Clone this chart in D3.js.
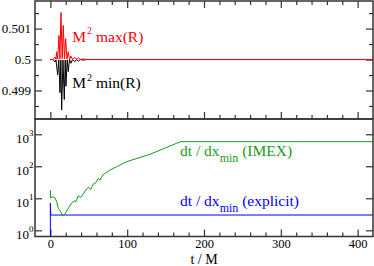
<!DOCTYPE html>
<html>
<head>
<meta charset="utf-8">
<script src="https://cdn.jsdelivr.net/npm/d3@7"></script>
<style>
  body { margin: 0; background: #fff; }
</style>
</head>
<body>
<svg id="chart" width="374" height="266"></svg>
<script>
// M^2 max(R) / min(R) vs t (top panel)
const tMaxR = [0, 3.4, 6, 7.3, 8.2, 9.5, 11.2, 12.5, 13.8, 15.4, 16.8, 18.4, 19.9, 21.6, 23.3, 24.9, 26.8, 28.8, 32, 34.2, 36.5, 39, 43, 47, 420];
const valMaxR = [0.5, 0.5, 0.50008, 0.50001, 0.50025, 0.50001, 0.50078, 0.50002, 0.50152, 0.50003, 0.5011, 0.50002, 0.50067, 0.50002, 0.50025, 0.5, 0.50011, 0.5, 0.50007, 0.5, 0.50005, 0.5, 0.50002, 0.5, 0.5];
const tMinR = [0, 3.4, 6, 7.3, 9.5, 11, 12.5, 13.7, 14.7, 16.4, 18.1, 19.3, 20.3, 21.9, 23.3, 24.9, 26.8, 28.8, 32, 34.2, 36.5, 39, 43, 47, 420];
const valMinR = [0.5, 0.5, 0.49992, 0.49999, 0.49951, 0.49999, 0.49893, 0.49998, 0.49837, 0.49998, 0.49871, 0.49998, 0.49914, 0.49999, 0.49961, 0.5, 0.49988, 0.5, 0.49993, 0.5, 0.49995, 0.5, 0.49998, 0.5, 0.5];

// dt / dx_min vs t (bottom panel)
const tImex = [0, 0.4, 3, 6, 8.2, 10.3, 13.4, 16, 19, 22, 24.6, 27.7, 30.7, 33.3, 36.3, 39.5, 42.8, 46.4, 49.3, 52.5, 55.9, 59.4, 62.4, 64.6, 68.1, 72.4, 77.6, 86.3, 99.3, 129.7, 164.5, 170, 420];
const valImex = [18, 10, 11.2, 10.4, 7.8, 4.9, 3.8, 2.8, 3.2, 4.3, 5.5, 7.0, 8.4, 7.8, 11.8, 10.7, 13.6, 18.2, 22, 19, 28, 31, 42, 37, 53, 63, 76, 97, 139, 237, 524, 588, 588];
const tExplicit = [0, 0, 0.5, 420];
const valExplicit = [0.64, 7, 3.0, 3.0];

// ticks
const xMajor = [0, 100, 200, 300, 400];
const xMinor = [20, 40, 60, 80, 120, 140, 160, 180, 220, 240, 260, 280, 320, 340, 360, 380];
const yTopMajor = [0.499, 0.5, 0.501];
const yTopMinor = [0.4985, 0.4995, 0.5005, 0.5015];
const yBotMajor = [1, 10, 100, 1000];
const yBotExp = ["0", "1", "2", "3"];

const serif = "'Liberation Serif', 'DejaVu Serif', 'Times New Roman', serif";

const svg = d3.select("#chart").attr("font-family", serif);
const left = 35, right = 373;

const x = d3.scaleLinear().domain([-20, 420]).range([left, right]);
const yTop = d3.scaleLinear().domain([0.49808, 0.50189]).range([119, 1]);
const yBot = d3.scaleLog().domain([0.64, 3000]).range([236.5, 119]);

const frameColor = "#333";

function tickAxis(axis, tx, ty, size) {
  const g = svg.append("g")
    .attr("transform", "translate(" + tx + "," + ty + ")")
    .call(axis)
    .attr("font-family", serif)
    .attr("font-size", size || 13);
  g.select(".domain").remove();
  g.selectAll(".tick line").attr("stroke", frameColor).attr("stroke-width", 1.2);
  g.selectAll("text").attr("fill", "#000");
  return g;
}

// ---- top panel ticks ----
tickAxis(d3.axisLeft(yTop).tickValues(yTopMajor).tickSize(-7).tickPadding(4)
  .tickFormat(d => d === 0.5 ? "0.5" : d3.format(".3f")(d)), left, 0);
tickAxis(d3.axisLeft(yTop).tickValues(yTopMinor).tickSize(-4).tickFormat(""), left, 0);
tickAxis(d3.axisRight(yTop).tickValues(yTopMajor).tickSize(-7).tickFormat(""), right, 0);
tickAxis(d3.axisRight(yTop).tickValues(yTopMinor).tickSize(-4).tickFormat(""), right, 0);
tickAxis(d3.axisTop(x).tickValues(xMajor).tickSize(-7).tickFormat(""), 0, 1);
tickAxis(d3.axisTop(x).tickValues(xMinor).tickSize(-4).tickFormat(""), 0, 1);
tickAxis(d3.axisBottom(x).tickValues(xMajor).tickSize(-7).tickFormat(""), 0, 119);
tickAxis(d3.axisBottom(x).tickValues(xMinor).tickSize(-4).tickFormat(""), 0, 119);

// ---- bottom panel ticks ----
const logLeft = tickAxis(d3.axisLeft(yBot).tickValues(yBotMajor).tickSize(-7).tickFormat(""), left, 0);
logLeft.selectAll(".tick").each(function(d, i) {
  const t = d3.select(this).append("text")
    .attr("x", -1.5)
    .attr("y", 8)
    .attr("text-anchor", "end")
    .attr("fill", "#000")
    .attr("font-size", 13);
  t.append("tspan").text("10");
  t.append("tspan").attr("dy", -7).attr("font-size", 9).text(yBotExp[i]);
});
tickAxis(d3.axisRight(yBot).tickValues(yBotMajor).tickSize(-7).tickFormat(""), right, 0);
tickAxis(d3.axisBottom(x).tickValues(xMajor).tickSize(-7).tickPadding(3), 0, 236.5, 12.5);
tickAxis(d3.axisBottom(x).tickValues(xMinor).tickSize(-4).tickFormat(""), 0, 236.5);

// ---- lines ----
function drawLine(ts, vs, y, color) {
  const pts = ts.map((t, i) => [t, vs[i]]);
  svg.append("path")
    .datum(pts)
    .attr("fill", "none")
    .attr("stroke", color)
    .attr("stroke-width", 1)
    .attr("d", d3.line().x(d => x(d[0])).y(d => y(d[1])));
}

drawLine(tMinR, valMinR, yTop, "#000");
drawLine(tMaxR, valMaxR, yTop, "#ff0000");
drawLine(tExplicit, valExplicit, yBot, "#0000ff");
drawLine(tImex, valImex, yBot, "#1a9a1a");

// ---- frames ----
svg.append("rect")
  .attr("x", left).attr("y", 1)
  .attr("width", right - left).attr("height", 118)
  .attr("fill", "none").attr("stroke", frameColor).attr("stroke-width", 1.5);
svg.append("rect")
  .attr("x", left).attr("y", 119)
  .attr("width", right - left).attr("height", 236.5 - 119)
  .attr("fill", "none").attr("stroke", frameColor).attr("stroke-width", 1.5);

// ---- labels ----
function supLabel(xp, yp, base, sup, rest, color) {
  const t = svg.append("text").attr("x", xp).attr("y", yp)
    .attr("fill", color).attr("font-size", 15.5);
  t.append("tspan").text(base);
  t.append("tspan").attr("dx", 1).attr("dy", -7.5).attr("font-size", 10).text(sup);
  t.append("tspan").attr("dy", 7.5).text(rest);
}
supLabel(72.3, 41.7, "M", "2", " max(R)", "#ff0000");
supLabel(72.3, 88.3, "M", "2", " min(R)", "#000");

function subLabel(xp, yp, base, sub, rest, color) {
  const t = svg.append("text").attr("x", xp).attr("y", yp)
    .attr("fill", color).attr("font-size", 15.5);
  t.append("tspan").text(base);
  t.append("tspan").attr("dy", 6).attr("font-size", 12).text(sub);
  t.append("tspan").attr("dy", -6).text(rest);
}
subLabel(180, 155.7, "dt / dx", "min", " (IMEX)", "#1a9a1a");
subLabel(180, 205.5, "dt / dx", "min", " (explicit)", "#0000ff");

svg.append("text")
  .attr("x", (left + right) / 2)
  .attr("y", 263.5)
  .attr("text-anchor", "middle")
  .attr("font-size", 14)
  .text("t / M");
</script>
</body>
</html>
